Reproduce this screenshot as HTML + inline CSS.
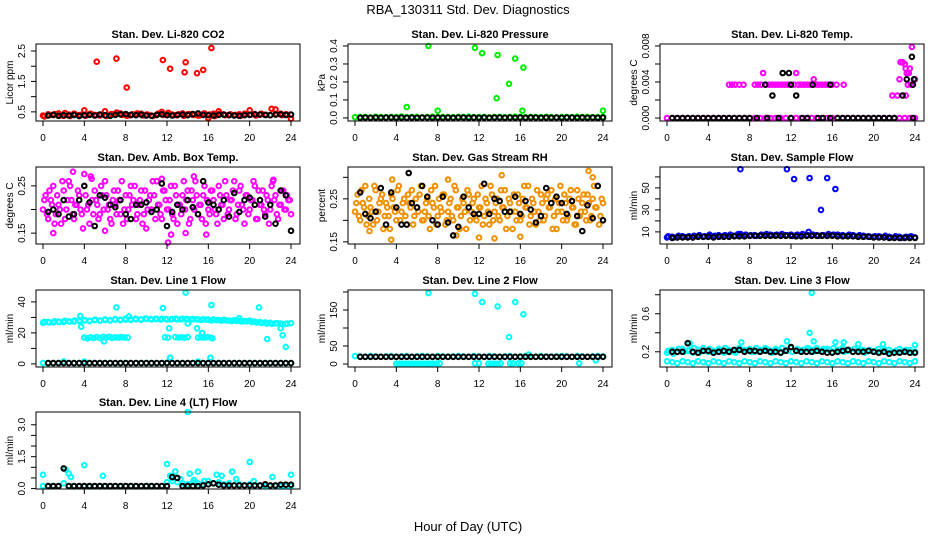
<!DOCTYPE html>
<html><head><meta charset="utf-8">
<style>
html,body{margin:0;padding:0;background:#fff;}
svg{display:block;font-family:"Liberation Sans",Arial,sans-serif;}
</style></head>
<body>
<svg id="chart" width="936" height="540" viewBox="0 0 936 540" xmlns="http://www.w3.org/2000/svg">
<text x="468" y="14" text-anchor="middle" font-size="13">RBA_130311  Std. Dev. Diagnostics</text>
<text x="468" y="531" text-anchor="middle" font-size="13">Hour of Day (UTC)</text>
</svg>
<script>
// ---------- DATA ----------
const xTicks = [0,4,8,12,16,20,24];
const titles = ["Stan. Dev. Li-820 CO2","Stan. Dev. Li-820 Pressure","Stan. Dev. Li-820 Temp.","Stan. Dev. Amb. Box Temp.","Stan. Dev. Gas Stream RH","Stan. Dev. Sample Flow","Stan. Dev. Line 1 Flow","Stan. Dev. Line 2 Flow","Stan. Dev. Line 3 Flow","Stan. Dev. Line 4 (LT) Flow"];
const yTitles = ["Licor ppm","kPa","degrees C","degrees C","percent","ml/min","ml/min","ml/min","ml/min","ml/min"];
const yTickVals = [[0.5,1.0,1.5,2.0,2.5],[0.0,0.1,0.2,0.3,0.4],[0,0.002,0.004,0.006,0.008],[0.15,0.20,0.25],[0.15,0.20,0.25,0.30],[10,20,30,40,50,60],[0,10,20,30,40],[0,50,100,150,200],[0.2,0.4,0.6,0.8],[0,0.5,1,1.5,2,2.5,3]];
const yTickLabels = [["0.5","","1.5","","2.5"],["0.0","0.1","0.2","0.3","0.4"],["0.000","","0.004","","0.008"],["0.15","","0.25"],["0.15","","0.25",""],["10","","30","","50",""],["0","","20","","40"],["0","50","","150",""],["0.2","","0.6",""],["0.0","","","1.5","","","3.0"]];
const yLims = [[0.2,2.73],[-0.017,0.411],[-0.00033,0.00822],[0.127,0.29],[0.145,0.324],[-1,69],[-2,47.7],[-8.3,205.5],[0.04,0.85],[-0.02,3.6]];

// CO2
const co2Red1 = [0.38,0.42,0.40,0.45,0.37,0.41,0.44,0.39,0.55,0.42,0.40,0.38,0.52,0.41,0.43,0.45,0.40,0.39,0.42,0.44,0.41,0.38,0.40,0.50,0.43,0.41,0.39,0.45,0.42,0.40,0.38,0.43,0.30,0.44,0.52,0.41,0.40,0.39,0.42,0.44,0.55,0.43,0.41,0.40,0.39,0.58,0.44,0.42,0.28];
const co2Red2 = [0.35,0.40,0.43,0.38,0.46,0.36,0.42,0.40,0.37,0.44,0.39,0.41,0.36,0.43,0.48,0.40,0.37,0.42,0.45,0.38,0.41,0.36,0.44,0.40,0.47,0.39,0.42,0.37,0.43,0.40,0.38,0.45,0.41,0.36,0.44,0.39,0.42,0.40,0.37,0.43,0.41,0.38,0.44,0.40,0.60,0.42,0.39,0.41];
const co2Black = [0.38,0.40,0.37,0.39,0.38,0.40,0.36,0.39,0.40,0.38,0.41,0.39,0.37,0.40,0.42,0.43,0.40,0.39,0.41,0.38,0.37,0.40,0.42,0.39,0.38,0.40,0.41,0.39,0.43,0.45,0.40,0.39,0.38,0.40,0.41,0.39,0.38,0.37,0.39,0.40,0.42,0.41,0.40,0.39,0.41,0.42,0.40,0.41];
const co2Out = [[5.2,2.15],[7.1,2.25],[8.1,1.3],[11.6,2.2],[12.3,1.92],[13.7,1.8],[13.8,2.13],[14.9,1.77],[15.5,1.88],[16.3,2.6]];
// Pressure
const presGreen = [0.004,0.006,0.005,0.003,0.007,0.005,0.004,0.006,0.005,0.008,0.004,0.005,0.006,0.003,0.005,0.007,0.004,0.006,0.005,0.004,0.006,0.005,0.007,0.004,0.005,0.006,0.003,0.005,0.006,0.004,0.005,0.007,0.005,0.004,0.006,0.005,0.004,0.006,0.005,0.003,0.006,0.005,0.004,0.007,0.005,0.006,0.004,0.005,0.006];
const presBlack = [0.001,0.002,0.001,0.002,0.001,0.002,0.002,0.001,0.002,0.001,0.002,0.001,0.002,0.002,0.001,0.002,0.001,0.002,0.001,0.002,0.002,0.001,0.002,0.001,0.002,0.001,0.002,0.002,0.001,0.002,0.001,0.002,0.001,0.002,0.002,0.001,0.002,0.001,0.002,0.001,0.002,0.002,0.001,0.002,0.001,0.002,0.001,0.002];
const presOut = [[5,0.06],[7.1,0.40],[8.0,0.04],[11.6,0.39],[12.3,0.36],[13.7,0.11],[13.8,0.35],[14.9,0.19],[15.5,0.33],[16.3,0.28],[16.2,0.04],[24,0.04]];
// Temp
const tempZero = [0,0,0,0,0,0,0,0,0,0,0,0,0,0,0,0,0,0,0,0,0,0,0,0,0,0,0,0,0,0,0,0,0,0,0,0,0,0,0,0,0,0,0,0,0,0,0,0,0];
const tempMag = [[6.0,0.0037],[6.3,0.0037],[6.6,0.0037],[7.0,0.0037],[7.4,0.0037],[8.5,0.0037],[8.8,0.0037],[9.1,0.0037],[9.3,0.005],[9.6,0.0037],[9.9,0.0037],[10.2,0.0037],[10.5,0.0037],[10.8,0.0037],[11.1,0.0037],[11.4,0.0037],[11.7,0.0037],[12.0,0.0037],[12.3,0.0037],[12.5,0.005],[12.7,0.0037],[13.0,0.0037],[13.3,0.0037],[13.6,0.0037],[13.9,0.0037],[14.2,0.0043],[14.4,0.0037],[14.7,0.0037],[15.0,0.0037],[15.3,0.0037],[15.6,0.0037],[16.0,0.0037],[16.4,0.0037],[17.1,0.0037],[21.8,0.0025],[22.3,0.0025],[22.5,0.0043],[22.6,0.0062],[22.8,0.0062],[23.0,0.006],[23.1,0.0055],[23.2,0.005],[23.4,0.005],[23.3,0.0037],[23.5,0.0055],[23.6,0.0037],[23.7,0.0079],[24.0,0.0043],[23.1,0.0025]];
const tempBlack = [[0.5,0],[1,0],[1.5,0],[2,0],[2.5,0],[3,0],[3.5,0],[4,0],[4.5,0],[5,0],[5.5,0],[6,0],[6.5,0],[7,0],[7.5,0],[8,0],[8.7,0],[9.5,0.0037],[9.7,0],[10.2,0.0025],[10.8,0],[11.2,0.005],[11.8,0.005],[12,0.0037],[12,0],[12.5,0.0025],[13.1,0],[13.6,0],[14.1,0.0037],[14.6,0],[15.1,0],[15.8,0.0037],[15.8,0],[16.5,0],[17,0],[17.5,0],[18,0],[18.5,0],[19,0],[19.5,0],[20,0],[20.5,0],[21,0],[21.5,0],[22,0],[22.8,0.0025],[23.2,0.0043],[23.7,0.0068],[23.8,0.0037],[23.9,0.0043],[23.8,0]];
// Amb box
const ambA = [0.20,0.23,0.18,0.22,0.25,0.19,0.21,0.17,0.24,0.20,0.26,0.22,0.18,0.21,0.23,0.19,0.25,0.20,0.17,0.22,0.24,0.21,0.19,0.23,0.26,0.20,0.18,0.22,0.21,0.24,0.19,0.17,0.23,0.20,0.25,0.22,0.18,0.21,0.24,0.19,0.16,0.22,0.20,0.23,0.26,0.21,0.18,0.24,0.20,0.22,0.19,0.25,0.17,0.21,0.23,0.20,0.24,0.18,0.22,0.26,0.19,0.21,0.23,0.17,0.20,0.24,0.22,0.19,0.25,0.21,0.18,0.23,0.20,0.22,0.26,0.19,0.24,0.21,0.17,0.23,0.20,0.22,0.25,0.18,0.21,0.24,0.19,0.22,0.20,0.26,0.23,0.18,0.21,0.24,0.20,0.22,0.19];
const ambB = [0.22,0.19,0.24,0.21,0.17,0.23,0.20,0.26,0.18,0.22,0.25,0.19,0.21,0.24,0.20,0.16,0.23,0.21,0.27,0.19,0.22,0.18,0.25,0.20,0.23,0.21,0.17,0.24,0.19,0.22,0.26,0.20,0.18,0.23,0.21,0.25,0.19,0.22,0.17,0.24,0.20,0.23,0.26,0.18,0.21,0.19,0.24,0.22,0.20,0.25,0.18,0.23,0.21,0.19,0.26,0.22,0.17,0.24,0.20,0.23,0.21,0.18,0.25,0.22,0.19,0.24,0.20,0.17,0.23,0.21,0.26,0.19,0.22,0.24,0.18,0.21,0.25,0.20,0.23,0.19,0.22,0.26,0.18,0.24,0.21,0.20,0.23,0.17,0.25,0.22,0.19,0.21,0.24,0.20,0.23,0.22];
const ambOut = [[1.0,0.15],[2.9,0.28],[4.0,0.275],[4.7,0.265],[12.1,0.13],[12.4,0.147],[15.8,0.147],[14.6,0.27],[6.0,0.155],[11.5,0.265],[22.3,0.263],[13.8,0.15]];
const ambBlack = [0.195,0.20,0.19,0.22,0.185,0.19,0.22,0.25,0.215,0.165,0.23,0.225,0.21,0.205,0.22,0.19,0.18,0.21,0.21,0.215,0.195,0.20,0.255,0.165,0.195,0.21,0.20,0.22,0.205,0.19,0.26,0.215,0.21,0.20,0.22,0.185,0.235,0.195,0.22,0.225,0.21,0.22,0.185,0.21,0.17,0.24,0.23,0.155];
// RH
const rhA = [0.22,0.26,0.20,0.24,0.28,0.21,0.23,0.19,0.27,0.22,0.25,0.18,0.24,0.21,0.26,0.23,0.20,0.28,0.22,0.25,0.19,0.24,0.27,0.21,0.23,0.26,0.20,0.22,0.25,0.18,0.24,0.28,0.21,0.23,0.26,0.19,0.22,0.25,0.20,0.27,0.23,0.21,0.24,0.18,0.26,0.22,0.25,0.20,0.23,0.28,0.21,0.24,0.19,0.26,0.22,0.25,0.20,0.23,0.27,0.21,0.24,0.18,0.22,0.26,0.20,0.25,0.23,0.28,0.21,0.24,0.19,0.22,0.26,0.20,0.25,0.23,0.27,0.21,0.18,0.24,0.22,0.26,0.20,0.25,0.23,0.19,0.27,0.21,0.24,0.22,0.26,0.20,0.25,0.23,0.28,0.21,0.24];
const rhB = [0.24,0.21,0.27,0.23,0.19,0.25,0.22,0.28,0.20,0.24,0.26,0.21,0.23,0.18,0.25,0.22,0.27,0.20,0.24,0.21,0.26,0.23,0.19,0.25,0.22,0.28,0.20,0.24,0.21,0.27,0.23,0.19,0.25,0.22,0.26,0.20,0.24,0.21,0.28,0.23,0.18,0.25,0.22,0.27,0.20,0.24,0.21,0.26,0.23,0.19,0.25,0.22,0.28,0.20,0.24,0.21,0.27,0.23,0.18,0.25,0.22,0.26,0.20,0.24,0.21,0.28,0.23,0.19,0.25,0.22,0.27,0.20,0.24,0.21,0.26,0.23,0.18,0.25,0.22,0.28,0.20,0.24,0.21,0.27,0.23,0.19,0.25,0.22,0.26,0.20,0.24,0.21,0.28,0.23,0.19,0.25];
const rhOut = [[3.5,0.155],[1.4,0.175],[9.0,0.295],[9.8,0.165],[14.2,0.305],[22.6,0.315],[23.0,0.30],[3.6,0.295],[12.0,0.16],[13.5,0.158],[16.0,0.162]];
const rhBlack = [0.265,0.215,0.205,0.22,0.275,0.19,0.265,0.23,0.19,0.19,0.24,0.23,0.28,0.255,0.20,0.19,0.255,0.195,0.165,0.185,0.255,0.23,0.215,0.215,0.285,0.215,0.25,0.245,0.22,0.22,0.255,0.215,0.245,0.225,0.195,0.21,0.275,0.24,0.255,0.24,0.215,0.245,0.21,0.175,0.235,0.205,0.28,0.20];
const rhBlackOut = [[5.2,0.31]];
// Sample flow
const sfBlue1 = [5,5.5,5,6,5.5,5,6,5.5,6.5,6,7,6.5,6,6.5,7,6,6.5,7,6.5,7,7.5,7,6.5,7,7.5,7,6.5,7,7.5,7,7,6.5,7,7.5,7,6.5,7,6,6.5,6,5.5,6,5,5.5,5,5.5,5,5.5,5];
const sfBlue2 = [6,5,6.5,5.5,6,6.5,7,6,7.5,6.5,6,7,7.5,6.5,8,7.5,7,6.5,7.5,8,7,7.5,8,7,6.5,7.5,8,7,7.5,6.5,7,8,7.5,7,6.5,7.5,6.5,7,6,5.5,6,5.5,6.5,5,6,4.5,5.5,6];
const sfOut = [[7.1,67],[11.6,67],[12.3,58],[13.8,59],[14.9,30],[15.5,59],[16.3,49],[13.7,10],[6.9,8]];
const sfBlack = [4.5,5,5,5,5,5.5,5.5,5.5,5,5.5,5.5,5.5,6,6,6,6.5,6.5,6.5,6.5,6.5,6.5,6.5,6.5,6.5,6,6,6.5,6.5,6.5,6.5,6.5,6.5,6,6,6,6,5.5,5.5,5.5,5,5,5,4.5,4.5,4.5,4.5,4.5,4.5];
// Line 1
const l1Up1 = [26.5,27,26.8,27.2,27,27.5,27.3,27.8,28,27.6,28.2,27.9,28.3,28,28.5,28.2,28.6,28.4,28.8,28.5,29,28.7,28.9,29.1,28.8,29,28.7,29.2,28.9,29,28.6,28.8,28.5,28.7,28.3,28.5,28,28.2,27.8,27.6,27.9,27.3,27,26.8,26.5,26.2,26,25.8,26.3];
const l1Up2 = [27.2,26.8,27.5,27.1,27.8,27.4,28,27.7,28.3,27.9,28.5,28.1,28.7,28.3,28.9,28.5,29.1,28.7,29.2,28.8,29.3,28.9,29.1,28.6,29,28.7,29.2,28.8,28.9,28.5,28.8,28.4,28.6,28.1,28.3,27.9,28,27.6,27.8,27.3,27.5,27,26.7,26.4,26.1,25.9,26.3,25.7,26];
const l1Mid = [[4.0,17],[4.3,16.5],[4.6,17.2],[4.9,16.8],[5.2,17.3],[5.5,16.7],[5.8,17.4],[5.9,14.5],[6.1,17],[6.4,17.5],[6.7,16.8],[7.0,17.2],[7.3,17],[7.6,17.3],[7.9,17],[8.2,17],[11.8,17.2],[12.1,17],[12.8,17.3],[13.1,17],[13.4,17.2],[13.7,17],[14.0,17.3],[15.0,17],[15.3,17.2],[15.6,17],[15.9,17.3],[16.2,17],[16.4,16.5]];
const l1Low = [0.5,0.5,0.6,0.5,1.5,0.6,0.5,0.5,1.5,0.5,0.6,0.5,0.5,0.6,0.5,0.5,0.6,0.5,0.5,0.6,0.5,0.5,0.6,0.5,0.8,0.5,0.6,0.5,0.5,0.6,1.5,0.5,0.8,0.5,0.6,0.5,0.5,0.6,0.5,0.5,0.6,0.5,0.5,0.6,0.5,0.5,0.6,0.5,0.5];
const l1Out = [[3.6,31],[3.7,24],[7.1,36.5],[11.6,36],[12.2,23],[12.3,4],[13.8,46],[14.0,26],[14.9,23],[15.4,20],[16.2,4],[16.3,38],[20.9,36.5],[21.7,16],[23.0,23],[23.2,18.5],[23.5,11],[8.3,30.5],[19.0,29.5]];
const l1Black = [0.5,0.5,0.5,0.5,0.5,0.5,0.5,0.5,0.5,0.5,0.5,0.5,0.5,0.5,0.5,0.5,0.5,0.5,0.5,0.5,0.5,0.5,0.5,0.5,0.5,0.5,0.5,0.5,0.5,0.5,0.5,0.5,0.5,0.5,0.5,0.5,0.5,0.5,0.5,0.5,0.5,0.5,0.5,0.5,0.5,0.5,0.5,0.5];
// Line 2
const l2Base = [22,21,20,22,21,20,21,22,20,21,22,20,21,22,21,20,22,21,20,21,22,21,20,22,21,20,22,21,20,21,22,20,21,22,21,20,22,21,20,21,22,21,20,22,21,20,21,22,21];
const l2Zero = [[4.0,1],[4.3,1],[4.6,1],[4.9,1],[5.2,1],[5.5,1],[5.8,1],[6.1,1],[6.4,1],[6.7,1],[7.0,1],[7.3,1],[7.6,1],[7.9,1],[8.2,2],[11.6,2],[12.0,2],[12.9,1],[13.2,1],[13.5,1],[13.8,1],[14.1,2],[15.0,2],[15.3,2],[15.8,2],[16.1,2],[21.7,2]];
const l2Out = [[7.1,197],[11.6,195],[12.3,172],[13.8,160],[14.9,75],[15.5,172],[16.3,138],[23.3,10],[16.8,26]];
const l2Black = [20,20,20,20,20,20,20,20,20,20,20,20,20,20,20,20,20,20,20,20,20,20,20,20,20,20,20,20,20,20,20,20,20,20,20,20,20,20,20,20,20,20,20,20,20,20,20,20];
// Line 3
const l3Up = [0.19,0.22,0.20,0.23,0.21,0.19,0.22,0.24,0.20,0.21,0.23,0.19,0.22,0.20,0.24,0.21,0.23,0.20,0.22,0.24,0.21,0.23,0.20,0.22,0.24,0.21,0.20,0.23,0.22,0.24,0.21,0.23,0.20,0.22,0.24,0.21,0.20,0.23,0.22,0.21,0.20,0.23,0.21,0.22,0.20,0.23,0.21,0.22,0.20];
const l3Up2 = [0.21,0.18,0.23,0.20,0.22,0.24,0.19,0.21,0.23,0.20,0.22,0.24,0.21,0.19,0.23,0.22,0.20,0.24,0.21,0.23,0.19,0.22,0.24,0.21,0.20,0.23,0.22,0.24,0.20,0.21,0.23,0.22,0.24,0.21,0.20,0.22,0.23,0.21,0.19,0.22,0.21,0.20,0.22,0.19,0.21,0.20,0.22,0.19];
const l3Low = [0.10,0.09,0.08,0.10,0.09,0.08,0.10,0.09,0.08,0.10,0.09,0.08,0.10,0.09,0.08,0.10,0.09,0.08,0.10,0.09,0.08,0.10,0.09,0.08,0.10,0.09,0.08,0.10,0.09,0.08,0.10,0.09,0.08,0.10,0.09,0.08,0.10,0.09,0.08,0.10,0.09,0.08,0.10,0.09,0.08,0.10,0.09,0.08,0.10];
const l3Out = [[2.2,0.29],[7.2,0.30],[11.6,0.31],[13.8,0.40],[14.0,0.82],[14.2,0.31],[16.3,0.30],[17.1,0.30],[24,0.27],[18.5,0.28],[20.9,0.28]];
const l3Black = [0.20,0.20,0.20,0.29,0.20,0.19,0.21,0.21,0.19,0.20,0.21,0.20,0.22,0.22,0.20,0.21,0.21,0.20,0.21,0.20,0.20,0.19,0.21,0.25,0.21,0.20,0.20,0.20,0.21,0.20,0.19,0.19,0.20,0.21,0.22,0.20,0.20,0.20,0.21,0.20,0.19,0.20,0.18,0.19,0.19,0.20,0.19,0.19];
// Line 4
const l4Base = [0.12,0.10,0.12,0.11,0.25,0.12,0.10,0.11,0.12,0.10,0.11,0.12,0.10,0.11,0.12,0.10,0.11,0.12,0.10,0.11,0.12,0.10,0.11,0.12,0.30,0.35,0.30,0.25,0.20,0.30,0.25,0.20,0.35,0.25,0.30,0.20,0.25,0.15,0.20,0.15,0.20,0.12,0.15,0.12,0.11,0.12,0.10,0.11,0.12];
const l4Out = [[0,0.65],[2.2,0.9],[2.5,0.7],[2.7,0.55],[4.0,1.1],[5.8,0.6],[12.0,1.15],[12.3,0.6],[12.8,0.8],[14.0,3.6],[14.2,0.7],[15,0.8],[16.8,0.65],[17.3,0.6],[18.3,0.8],[20,1.25],[22.2,0.55],[24,0.65],[13.3,0.45],[14.6,0.4],[15.6,0.35],[18.7,0.45],[20.4,0.35],[12.5,0.5]];
const l4Black = [0.12,0.12,0.12,0.95,0.12,0.12,0.12,0.12,0.12,0.12,0.12,0.12,0.12,0.12,0.12,0.12,0.12,0.12,0.12,0.12,0.12,0.12,0.12,0.12,0.55,0.5,0.12,0.12,0.12,0.12,0.15,0.20,0.25,0.18,0.15,0.15,0.15,0.15,0.15,0.15,0.15,0.15,0.20,0.15,0.15,0.18,0.18,0.18];

// ---------- LAYOUT ----------
const colX0 = [43,355,667];
const rowTop = [44,167,290,412];
const plotH = 77, xSpan = 248;
const NS = "http://www.w3.org/2000/svg";
const svg = document.getElementById('chart');
function mk(tag, attrs, parent){const e=document.createElementNS(NS,tag);for(const k in attrs)e.setAttribute(k,attrs[k]);(parent||svg).appendChild(e);return e;}
function hoursEven(n){const h=[];for(let i=0;i<n;i++)h.push(24*i/(n-1));return h;}
function hoursHalf(n){const h=[];for(let i=0;i<n;i++)h.push(0.5+0.5*i);return h;}
function hoursQuarter(n){const h=[];for(let i=0;i<n;i++)h.push(0.125+24*i/(n));return h;}

const RED="#ff0000",GRN="#00ee00",MAG="#ff00ff",BLK="#000000",BLU="#0000ff",CYN="#00ffff",ORG="#f09000";
function ser(hours, vals, color){return {hours, vals, color};}
function pairs(p,color){return {hours:p.map(d=>d[0]), vals:p.map(d=>d[1]), color};}
const panelSeries = [
 [ser(hoursEven(co2Red1.length),co2Red1,RED), ser(hoursQuarter(co2Red2.length),co2Red2,RED), pairs(co2Out,RED), ser(hoursHalf(co2Black.length),co2Black,BLK)],
 [ser(hoursEven(presGreen.length),presGreen,GRN), pairs(presOut,GRN), ser(hoursHalf(presBlack.length),presBlack,BLK)],
 [ser(hoursEven(tempZero.length),tempZero,MAG), pairs(tempMag,MAG), pairs(tempBlack,BLK)],
 [ser(hoursEven(ambA.length),ambA,MAG), ser(hoursQuarter(ambB.length),ambB,MAG), pairs(ambOut,MAG), ser(hoursHalf(ambBlack.length),ambBlack,BLK)],
 [ser(hoursEven(rhA.length),rhA,ORG), ser(hoursQuarter(rhB.length),rhB,ORG), pairs(rhOut,ORG), ser(hoursHalf(rhBlack.length),rhBlack,BLK), pairs(rhBlackOut,BLK)],
 [ser(hoursEven(sfBlue1.length),sfBlue1,BLU), ser(hoursQuarter(sfBlue2.length),sfBlue2,BLU), pairs(sfOut,BLU), ser(hoursHalf(sfBlack.length),sfBlack,BLK)],
 [ser(hoursEven(l1Up1.length),l1Up1,CYN), ser(hoursQuarter(l1Up2.length),l1Up2,CYN), pairs(l1Mid,CYN), ser(hoursEven(l1Low.length),l1Low,CYN), pairs(l1Out,CYN), ser(hoursHalf(l1Black.length),l1Black,BLK)],
 [ser(hoursEven(l2Base.length),l2Base,CYN), pairs(l2Zero,CYN), pairs(l2Out,CYN), ser(hoursHalf(l2Black.length),l2Black,BLK)],
 [ser(hoursEven(l3Up.length),l3Up,CYN), ser(hoursQuarter(l3Up2.length),l3Up2,CYN), ser(hoursEven(l3Low.length),l3Low,CYN), pairs(l3Out,CYN), ser(hoursHalf(l3Black.length),l3Black,BLK)],
 [ser(hoursEven(l4Base.length),l4Base,CYN), pairs(l4Out,CYN), ser(hoursHalf(l4Black.length),l4Black,BLK)]
];

for(let p=0;p<10;p++){
  const col=p%3, row=Math.floor(p/3);
  const x0=colX0[col], top=rowTop[row], bot=top+plotH;
  const left=x0-7, right=x0+xSpan+9;
  const [ymin,ymax]=yLims[p];
  const xs=h=>x0+h/24*xSpan;
  const ys=v=>bot-(v-ymin)/(ymax-ymin)*plotH;
  const g=mk('g',{});
  
  
  const t=mk('text',{x:(left+right)/2,y:top-6,'text-anchor':'middle','font-size':'11','font-weight':'bold'},g);
  
  
  t.textContent=titles[p];
  const sg=mk('g',{fill:'none','stroke-width':'2'},g);
  
  
  panelSeries[p].forEach(s=>{
    for(let i=0;i<s.vals.length;i++){
      const c=mk('circle',{cx:xs(s.hours[i]).toFixed(1),cy:ys(s.vals[i]).toFixed(1),r:'2.3',stroke:s.color},sg);
      
      
    }
  });
  const box=mk('rect',{x:left,y:top,width:right-left,height:plotH,fill:'none',stroke:'#000','stroke-width':'1'},g);
  
  
  const xa=mk('g',{},g);
  
  
  xTicks.forEach(v=>{
    mk('line',{x1:xs(v),x2:xs(v),y1:bot,y2:bot+5,stroke:'#000'},xa);
    const tl=mk('text',{x:xs(v),y:bot+20,'text-anchor':'middle','font-size':'10'},xa);
    
    
    tl.textContent=v;
  });
  const ya=mk('g',{},g);
  
  
  const tv=yTickVals[p];
  mk('line',{x1:left,x2:left,y1:ys(tv[0]),y2:ys(tv[tv.length-1]),stroke:'#000'},ya);
  tv.forEach((v,i)=>{
    const y=ys(v);
    mk('line',{x1:left-5,x2:left,y1:y,y2:y,stroke:'#000'},ya);
    const lab=yTickLabels[p][i];
    if(lab){
      const tl=mk('text',{x:0,y:0,'text-anchor':'middle','font-size':'10',transform:`translate(${left-11},${y}) rotate(-90)`},ya);
      
      
      tl.textContent=lab;
    }
  });
  const yt=mk('text',{x:0,y:0,'text-anchor':'middle','font-size':'10',transform:`translate(${left-23},${(top+bot)/2}) rotate(-90)`},g);
  
  
  yt.textContent=yTitles[p];
}
</script>
</body></html>
